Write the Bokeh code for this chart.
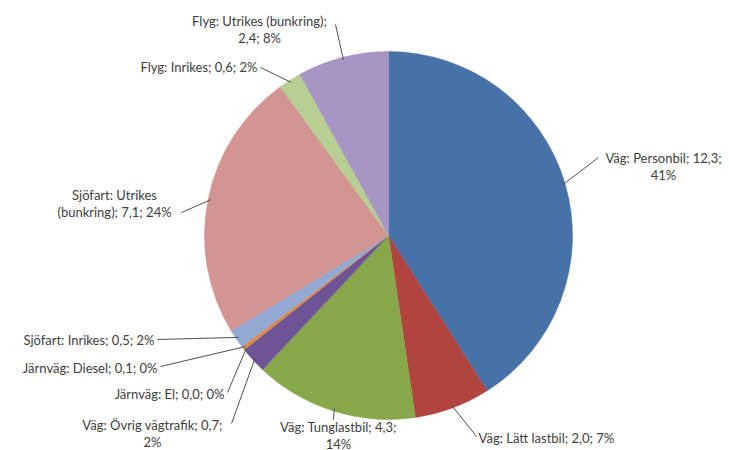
import math
from bokeh.plotting import figure
from bokeh.models import Range1d
from bokeh.embed import file_html
from bokeh.resources import INLINE
from bokeh.core.properties import value

# ---- data ----
names = ["Väg: Personbil", "Väg: Lätt lastbil", "Väg: Tunglastbil", "Väg: Övrig vägtrafik",
         "Järnväg: El", "Järnväg: Diesel", "Sjöfart: Inrikes", "Sjöfart: Utrikes (bunkring)",
         "Flyg: Inrikes", "Flyg: Utrikes (bunkring)"]
values = [12.3, 2.0, 4.3, 0.7, 0.0, 0.1, 0.5, 7.1, 0.6, 2.4]
colors = ["#4672A8", "#B2443F", "#87A74A", "#6E5496", "#3E9BB4", "#DB8B45",
          "#93A9D4", "#D39592", "#B8CF94", "#A796C4"]

# ---- layout (pixel coordinates in the 729x450 window) ----
W, H = 729, 450
CX, CY, R = 388, 235, 184
label_pos = [
    (663, 157, "center"), (478, 437, "left"), (338, 426, "center"), (152, 424, "center"),
    (224, 393, "right"), (157, 367, "right"), (154, 339, "right"), (114, 194, "center"),
    (257, 66, "right"), (259, 20, "center"),
]
leader_end = [
    (598, 157), (476, 436), (333, 419), (231, 423), (227, 392), (160, 366),
    (157, 339), (181, 212), (260, 67), (335, 24),
]
LH = 17


def fmt(v):
    return ("%.1f" % v).replace(".", ",")


total = sum(values)
labels = []
for n, v in zip(names, values):
    pct = round(100 * v / total)
    labels.append((n, fmt(v), pct))


def lines_for(i):
    n, v, pct = labels[i]
    if i in (0, 2, 3):
        return [f"{n}; {v};", f"{pct}%"]
    if i == 7:
        return ["Sjöfart: Utrikes", f"(bunkring); {v}; {pct}%"]
    if i == 9:
        return [f"{n};", f"{v}; {pct}%"]
    return [f"{n}; {v}; {pct}%"]


def fy(y):
    return H - y


p = figure(width=W, height=H, output_backend="svg", toolbar_location=None,
           x_range=Range1d(0, W), y_range=Range1d(0, H), min_border=0)
p.axis.visible = False
p.grid.visible = False
p.outline_line_color = None
p.background_fill_color = "white"
p.border_fill_color = "white"

cum = 0.0
starts, ends, mids = [], [], []
for v in values:
    a0 = math.pi / 2 - 2 * math.pi * cum / total
    cum += v
    a1 = math.pi / 2 - 2 * math.pi * cum / total
    starts.append(a0)
    ends.append(a1)
    mids.append((a0 + a1) / 2)

for i in range(len(values)):
    if values[i] <= 0:
        continue
    p.wedge(x=CX, y=fy(CY), radius=R, start_angle=starts[i], end_angle=ends[i],
            direction="clock", fill_color=colors[i], line_color=colors[i], line_width=0.5)

# leader lines
for i, m in enumerate(mids):
    ex = CX + R * 0.985 * math.cos(m)
    ey = fy(CY) + R * 0.985 * math.sin(m)
    lx, ly = leader_end[i]
    p.line([ex, lx], [ey, fy(ly)], line_color="#505050", line_width=1)

# labels
for i in range(len(values)):
    x, y, align = label_pos[i]
    for k, t in enumerate(lines_for(i)):
        p.text(x=[x], y=[fy(y + k * LH)], text=[t], text_align=align,
               text_baseline="middle", text_font=value("Lato"), text_font_size="13px",
               text_color="#404040")

open("out.html", "w").write(file_html(p, INLINE))
